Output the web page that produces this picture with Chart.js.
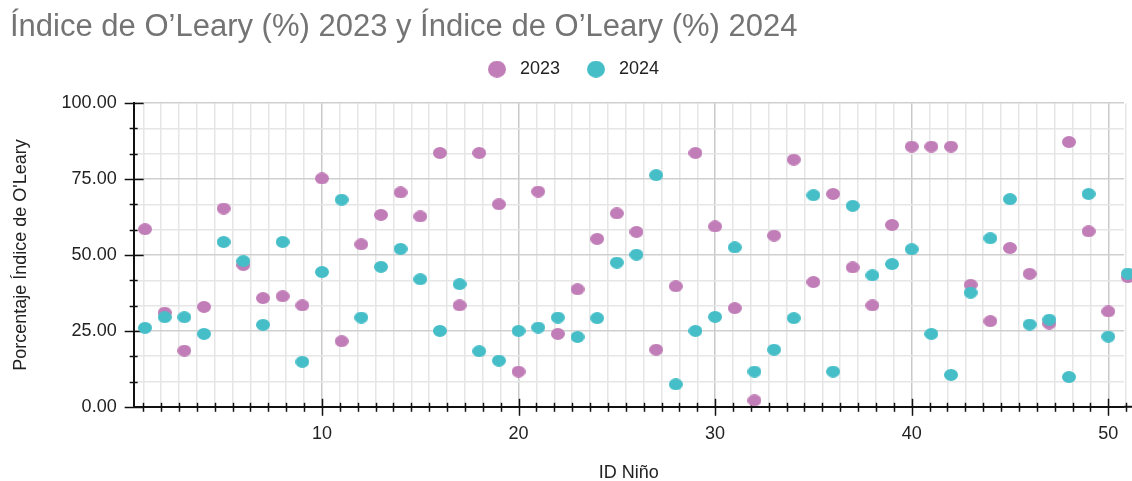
<!DOCTYPE html>
<html lang="es">
<head>
<meta charset="UTF-8">
<meta name="viewport" content="width=device-width, initial-scale=1.0">
<title>Índice de O’Leary 2023 y 2024</title>
<script src="https://cdn.jsdelivr.net/npm/chart.js"></script>
<style>
    html, body { margin: 0; padding: 0; background: #fff; }
    .chart-container { position: relative; width: 1132px; height: 481px; }
</style>
</head>
<body>
<div class="chart-container">
    <canvas id="graficoOleary"></canvas>
</div>

<script>
    // ID de cada niño (eje x)
    const idsNino = [1, 2, 3, 4, 5, 6, 7, 8, 9, 10,
        11, 12, 13, 14, 15, 16, 17, 18, 19, 20,
        21, 22, 23, 24, 25, 26, 27, 28, 29, 30,
        31, 32, 33, 34, 35, 36, 37, 38, 39, 40,
        41, 42, 43, 44, 45, 46, 47, 48, 49, 50, 51];

    // Índice de O'Leary (%)
    const oleary2023 = [58.5, 31.0, 18.5, 32.9, 65.3, 46.7, 35.8, 36.4, 33.4, 75.2,
        21.6, 53.5, 63.2, 70.6, 62.7, 83.6, 33.4, 83.6, 66.7, 11.6,
        70.9, 24.0, 38.7, 55.3, 63.7, 57.6, 18.8, 39.7, 83.6, 59.4,
        32.5, 2.1, 56.4, 81.4, 41.1, 70.1, 45.9, 33.4, 59.9, 85.7,
        85.7, 85.7, 40.2, 28.2, 52.3, 43.8, 27.4, 87.2, 57.8, 31.4, 42.7];

    const oleary2024 = [26.0, 29.5, 29.5, 24.0, 54.3, 48.0, 27.0, 54.3, 14.8, 44.4,
        68.2, 29.4, 46.1, 52.0, 42.0, 25.0, 40.4, 18.3, 15.2, 25.0,
        26.1, 29.4, 23.0, 29.2, 47.5, 50.1, 76.3, 7.4, 25.0, 29.6,
        52.5, 11.6, 18.8, 29.2, 69.7, 11.6, 66.2, 43.3, 47.0, 51.9,
        24.0, 10.5, 37.6, 55.5, 68.4, 27.1, 28.7, 9.8, 70.1, 23.1, 43.9];

    const etiquetasX = [10, 20, 30, 40, 50];
    const etiquetasY = [0, 25, 50, 75, 100];

    const colorMorado = "#C07DB7";
    const colorTurquesa = "#45BEC8";

    Chart.defaults.font.family = '"Liberation Sans", Arial, sans-serif';

    // marcas menores (la rejilla original no coincide con los enteros)
    const marcasX = [];
    for (let k = 0; k <= 5; k++) {
        for (let j = 0; j < 11; j++) {
            const v = 10 * k + j * 10 / 11;
            if (v > 0.42 && v < 51.2) marcasX.push(v);
        }
    }
    const marcasY = [];
    for (let k = 0; k <= 12; k++) marcasY.push(k * 25 / 3);

    const esEtiqueta = (v, lista) => lista.some(e => Math.abs(e - v) < 1e-6);

    function crearElipse(color, ancho, alto) {
        const c = document.createElement("canvas");
        c.width = ancho;
        c.height = alto;
        const g = c.getContext("2d");
        g.fillStyle = color;
        g.beginPath();
        g.ellipse(ancho / 2, alto / 2, ancho / 2, alto / 2, 0, 0, Math.PI * 2);
        g.fill();
        return c;
    }

    const puntoLeyenda = [crearElipse(colorMorado, 18, 17), crearElipse(colorTurquesa, 18, 17)];

    // marcas negras cruzando los ejes (y el tramo final del eje x)
    const marcasEjes = {
        id: "marcasEjes",
        beforeDatasetsDraw(chart) {
            const { ctx, chartArea, scales, width } = chart;
            ctx.save();
            ctx.strokeStyle = "#111";
            ctx.lineWidth = 2;
            ctx.beginPath();
            ctx.moveTo(chartArea.right, chartArea.bottom);
            ctx.lineTo(width, chartArea.bottom);
            ctx.stroke();
            ctx.lineWidth = 1.5;
            scales.x.ticks.forEach(t => {
                const px = Math.round(scales.x.getPixelForValue(t.value)) + 0.5;
                const mayor = esEtiqueta(t.value, etiquetasX);
                ctx.beginPath();
                ctx.moveTo(px, chartArea.bottom - (mayor ? 8 : 4));
                ctx.lineTo(px, chartArea.bottom + (mayor ? 9 : 5));
                ctx.stroke();
            });
            scales.y.ticks.forEach(t => {
                const py = Math.round(scales.y.getPixelForValue(t.value)) + 0.5;
                const mayor = esEtiqueta(t.value, etiquetasY);
                ctx.beginPath();
                ctx.moveTo(chartArea.left - (mayor ? 9 : 4), py);
                ctx.lineTo(chartArea.left + (mayor ? 10 : 4), py);
                ctx.stroke();
            });
            ctx.restore();
        }
    };

    const sinRelleno = escala => { escala.paddingLeft = 0; escala.paddingRight = 0; };

    const ctx = document.getElementById("graficoOleary").getContext("2d");
    new Chart(ctx, {
        type: "scatter",
        data: {
            datasets: [{
                label: "2023",
                data: idsNino.map((id, i) => ({ x: id, y: oleary2023[i] })),
                backgroundColor: colorMorado,
                borderColor: colorMorado,
                pointStyle: crearElipse(colorMorado, 14, 12),
                pointRadius: 7,
                clip: false,
                order: 1
            }, {
                label: "2024",
                data: idsNino.map((id, i) => ({ x: id, y: oleary2024[i] })),
                backgroundColor: colorTurquesa,
                borderColor: colorTurquesa,
                pointStyle: crearElipse(colorTurquesa, 14, 12),
                pointRadius: 7,
                clip: false,
                order: 0
            }]
        },
        options: {
            responsive: true,
            maintainAspectRatio: false,
            animation: false,
            layout: { padding: { left: 10, right: 0, top: 0, bottom: 0 } },
            plugins: {
                title: {
                    display: true,
                    text: "Índice de O’Leary (%) 2023 y Índice de O’Leary (%) 2024",
                    align: "start",
                    color: "#747474",
                    font: { size: 31, weight: "normal" },
                    padding: { top: 9, bottom: -8 }
                },
                legend: {
                    display: true,
                    labels: {
                        usePointStyle: true,
                        pointStyleWidth: 28,
                        color: "#222",
                        font: { size: 18 },
                        padding: 22,
                        generateLabels: chart => chart.data.datasets.map((ds, i) => ({
                            text: ds.label,
                            fillStyle: ds.backgroundColor,
                            strokeStyle: ds.backgroundColor,
                            lineWidth: 0,
                            pointStyle: puntoLeyenda[i],
                            fontColor: "#222",
                            hidden: !chart.isDatasetVisible(i),
                            datasetIndex: i
                        }))
                    }
                },
                tooltip: { enabled: false }
            },
            scales: {
                x: {
                    type: "linear",
                    min: 0.42,
                    max: 50.8,
                    afterBuildTicks: escala => { escala.ticks = marcasX.map(v => ({ value: v })); },
                    afterFit: sinRelleno,
                    ticks: {
                        autoSkip: false,
                        maxRotation: 0,
                        minRotation: 0,
                        padding: 0,
                        color: "#222",
                        font: { size: 18 },
                        callback: v => esEtiqueta(v, etiquetasX) ? String(Math.round(v)) : ""
                    },
                    grid: {
                        drawTicks: true,
                        tickLength: 16,
                        tickColor: "rgba(0,0,0,0)",
                        color: c => esEtiqueta(c.tick.value, etiquetasX) ? "#c9c9c9" : "#e6e6e6",
                        lineWidth: 1.5
                    },
                    border: { color: "#111", width: 2 },
                    title: {
                        display: true,
                        text: "ID Niño",
                        color: "#222",
                        font: { size: 18 },
                        padding: { top: 18, bottom: -3 }
                    }
                },
                margen: {
                    type: "linear",
                    position: "top",
                    display: true,
                    grid: { display: false, drawTicks: false },
                    border: { display: false },
                    ticks: { display: false },
                    afterFit: escala => { escala.height = 15; sinRelleno(escala); }
                },
                y: {
                    type: "linear",
                    min: 0,
                    max: 100,
                    afterBuildTicks: escala => { escala.ticks = marcasY.map(v => ({ value: v })); },
                    ticks: {
                        autoSkip: false,
                        padding: 17,
                        color: "#222",
                        font: { size: 18 },
                        callback: v => esEtiqueta(v, etiquetasY) ? v.toFixed(2) : ""
                    },
                    grid: {
                        drawTicks: false,
                        color: c => esEtiqueta(c.tick.value, etiquetasY) ? "#cfcfcf" : "#e6e6e6",
                        lineWidth: 1.5
                    },
                    border: { color: "#111", width: 2 },
                    title: {
                        display: true,
                        text: "Porcentaje Índice de O'Leary",
                        color: "#222",
                        font: { size: 18 },
                        padding: { top: 0, bottom: 13 }
                    }
                }
            }
        },
        plugins: [marcasEjes]
    });
</script>
</body>
</html>
